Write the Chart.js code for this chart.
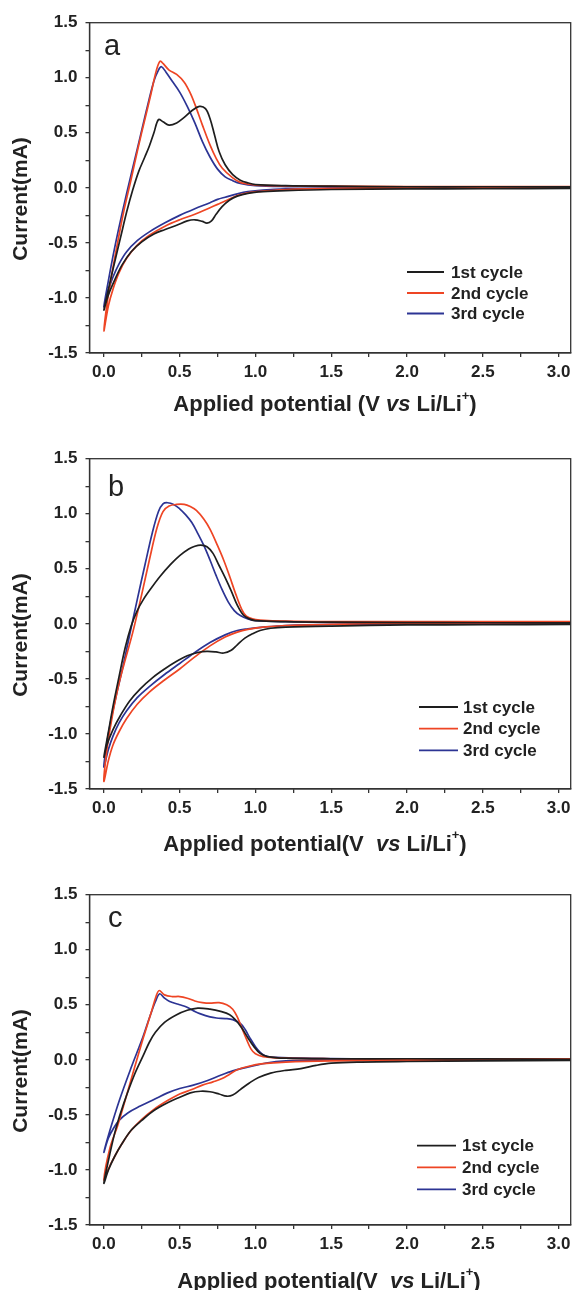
<!DOCTYPE html>
<html><head><meta charset="utf-8">
<script src="https://cdn.jsdelivr.net/npm/chart.js@4"></script>
<style>
html,body{margin:0;padding:0;background:#fff;overflow:hidden;width:576px;height:1290px}
.panel{position:absolute;left:0;width:576px;height:436px}
</style></head><body>
<div class="panel" style="top:0px"><canvas id="ca" width="576" height="436"></canvas></div>
<div class="panel" style="top:436px"><canvas id="cb" width="576" height="436"></canvas></div>
<div class="panel" style="top:872px"><canvas id="cc" width="576" height="436"></canvas></div>
<script>
// ---- data: [potential V, current mA], cathodic sweep then anodic sweep ----
const seriesLabels = ['1st cycle', '2nd cycle', '3rd cycle'];
const xTicks = [0.0, 0.5, 1.0, 1.5, 2.0, 2.5, 3.0];
const yTicks = [-1.5, -1.0, -0.5, 0.0, 0.5, 1.0, 1.5];

const A1 = [[3.08,-0.005],[2.5,-0.008],[2.0,-0.01],[1.5,-0.015],[1.2,-0.025],[1.05,-0.035],[0.95,-0.05],[0.88,-0.075],[0.83,-0.11],[0.78,-0.17],[0.74,-0.24],[0.71,-0.3],[0.68,-0.32],[0.65,-0.305],[0.6,-0.29],[0.55,-0.3],[0.48,-0.34],[0.4,-0.38],[0.33,-0.42],[0.25,-0.49],[0.18,-0.58],[0.12,-0.7],[0.07,-0.84],[0.03,-0.97],[0,-1.11],
 [0.03,-0.92],[0.07,-0.68],[0.11,-0.45],[0.15,-0.22],[0.19,-0.02],[0.23,0.15],[0.27,0.28],[0.3,0.38],[0.33,0.5],[0.36,0.62],[0.39,0.6],[0.43,0.57],[0.48,0.59],[0.53,0.64],[0.58,0.7],[0.63,0.74],[0.67,0.72],[0.7,0.63],[0.73,0.48],[0.76,0.33],[0.8,0.21],[0.85,0.12],[0.9,0.07],[0.95,0.045],[1.0,0.03],[1.2,0.02],[1.5,0.015],[2.0,0.01],[2.5,0.01],[3.08,0.01]];
const A2 = [[3.08,0.005],[2.5,0.003],[2.0,0.0],[1.5,-0.005],[1.2,-0.015],[1.05,-0.03],[0.95,-0.045],[0.88,-0.07],[0.8,-0.12],[0.75,-0.15],[0.7,-0.18],[0.6,-0.24],[0.5,-0.29],[0.4,-0.35],[0.3,-0.43],[0.22,-0.52],[0.15,-0.64],[0.1,-0.77],[0.06,-0.92],[0.03,-1.07],[0,-1.3],
 [0.02,-1.06],[0.05,-0.8],[0.09,-0.5],[0.13,-0.22],[0.18,0.08],[0.225,0.36],[0.27,0.62],[0.31,0.85],[0.345,1.06],[0.37,1.15],[0.39,1.13],[0.43,1.07],[0.48,1.03],[0.53,0.96],[0.57,0.86],[0.6,0.76],[0.65,0.57],[0.7,0.39],[0.74,0.27],[0.78,0.18],[0.85,0.09],[0.9,0.05],[0.95,0.035],[1.0,0.025],[1.2,0.018],[1.5,0.015],[2.0,0.012],[2.5,0.012],[3.08,0.012]];
const A3 = [[3.08,0.005],[2.5,0.003],[2.0,0.0],[1.5,-0.005],[1.2,-0.01],[1.05,-0.02],[0.95,-0.035],[0.88,-0.055],[0.8,-0.085],[0.75,-0.105],[0.7,-0.135],[0.6,-0.19],[0.5,-0.25],[0.4,-0.32],[0.3,-0.4],[0.22,-0.48],[0.15,-0.58],[0.1,-0.69],[0.06,-0.81],[0.03,-0.93],[0,-1.08],
 [0.03,-0.84],[0.06,-0.62],[0.093,-0.4],[0.15,-0.05],[0.225,0.38],[0.28,0.7],[0.33,0.97],[0.36,1.07],[0.38,1.1],[0.41,1.05],[0.45,0.97],[0.5,0.87],[0.55,0.74],[0.6,0.59],[0.65,0.42],[0.7,0.28],[0.75,0.17],[0.8,0.1],[0.85,0.065],[0.9,0.04],[1.0,0.02],[1.2,0.012],[1.5,0.01],[2.0,0.008],[2.5,0.007],[3.08,0.007]];

const B1 = [[3.08,-0.005],[2.5,-0.008],[2.0,-0.01],[1.5,-0.02],[1.2,-0.03],[1.1,-0.04],[1.03,-0.06],[0.98,-0.09],[0.93,-0.13],[0.88,-0.19],[0.84,-0.24],[0.79,-0.265],[0.74,-0.255],[0.68,-0.25],[0.62,-0.26],[0.55,-0.29],[0.48,-0.34],[0.4,-0.41],[0.32,-0.49],[0.24,-0.59],[0.17,-0.7],[0.11,-0.83],[0.06,-0.96],[0.02,-1.1],[0,-1.21],
 [0.03,-0.98],[0.06,-0.75],[0.1,-0.48],[0.14,-0.22],[0.18,-0.02],[0.22,0.12],[0.26,0.22],[0.31,0.32],[0.37,0.43],[0.44,0.54],[0.5,0.62],[0.56,0.68],[0.6,0.705],[0.64,0.715],[0.68,0.7],[0.72,0.64],[0.76,0.53],[0.8,0.42],[0.84,0.3],[0.88,0.17],[0.92,0.08],[0.96,0.045],[1.0,0.03],[1.2,0.02],[1.5,0.015],[2.0,0.012],[2.5,0.01],[3.08,0.01]];
const B2 = [[3.08,0.01],[2.5,0.008],[2.0,0.005],[1.5,-0.005],[1.2,-0.015],[1.05,-0.03],[0.95,-0.05],[0.88,-0.075],[0.8,-0.12],[0.7,-0.2],[0.6,-0.3],[0.5,-0.41],[0.4,-0.51],[0.3,-0.62],[0.22,-0.73],[0.15,-0.86],[0.1,-0.98],[0.06,-1.1],[0.03,-1.24],[0,-1.43],
 [0.02,-1.14],[0.05,-0.88],[0.09,-0.6],[0.13,-0.38],[0.19,-0.08],[0.25,0.27],[0.3,0.58],[0.35,0.87],[0.39,1.02],[0.43,1.07],[0.48,1.085],[0.53,1.085],[0.57,1.065],[0.61,1.03],[0.66,0.95],[0.7,0.86],[0.75,0.71],[0.79,0.58],[0.83,0.43],[0.87,0.27],[0.91,0.13],[0.94,0.07],[0.98,0.045],[1.03,0.035],[1.2,0.025],[1.5,0.02],[2.0,0.02],[2.5,0.02],[3.08,0.02]];
const B3 = [[3.08,0.005],[2.5,0.003],[2.0,0.0],[1.5,-0.005],[1.2,-0.015],[1.05,-0.03],[0.95,-0.045],[0.88,-0.06],[0.8,-0.1],[0.7,-0.17],[0.6,-0.26],[0.5,-0.36],[0.4,-0.46],[0.3,-0.57],[0.22,-0.67],[0.15,-0.79],[0.1,-0.9],[0.06,-1.02],[0.03,-1.14],[0,-1.3],
 [0.02,-1.08],[0.05,-0.85],[0.09,-0.6],[0.13,-0.36],[0.17,-0.1],[0.22,0.22],[0.27,0.53],[0.32,0.83],[0.36,1.02],[0.39,1.09],[0.42,1.1],[0.46,1.085],[0.5,1.045],[0.54,0.99],[0.58,0.92],[0.62,0.82],[0.66,0.71],[0.7,0.58],[0.74,0.44],[0.78,0.31],[0.82,0.2],[0.86,0.12],[0.9,0.075],[0.95,0.045],[1.0,0.03],[1.2,0.02],[1.5,0.015],[2.0,0.012],[2.5,0.01],[3.08,0.01]];

const C1 = [[3.08,-0.005],[2.5,-0.01],[2.0,-0.015],[1.7,-0.02],[1.5,-0.03],[1.4,-0.05],[1.3,-0.08],[1.2,-0.095],[1.1,-0.12],[1.02,-0.16],[0.96,-0.21],[0.9,-0.27],[0.85,-0.32],[0.81,-0.33],[0.76,-0.31],[0.7,-0.29],[0.64,-0.285],[0.57,-0.3],[0.5,-0.34],[0.42,-0.39],[0.33,-0.46],[0.25,-0.55],[0.18,-0.64],[0.12,-0.76],[0.07,-0.88],[0.03,-1.0],[0,-1.12],
 [0.04,-0.85],[0.08,-0.62],[0.13,-0.4],[0.2,-0.14],[0.26,0.04],[0.3,0.16],[0.34,0.25],[0.4,0.34],[0.48,0.41],[0.55,0.45],[0.62,0.47],[0.7,0.46],[0.77,0.44],[0.83,0.41],[0.87,0.36],[0.91,0.29],[0.95,0.2],[0.99,0.12],[1.03,0.06],[1.08,0.03],[1.2,0.015],[1.5,0.01],[2.0,0.01],[2.5,0.008],[3.08,0.005]];
const C2 = [[3.08,0.0],[2.5,-0.003],[2.0,-0.005],[1.5,-0.01],[1.2,-0.02],[1.05,-0.035],[0.95,-0.06],[0.88,-0.09],[0.83,-0.13],[0.78,-0.17],[0.72,-0.2],[0.65,-0.23],[0.58,-0.27],[0.5,-0.31],[0.42,-0.37],[0.33,-0.45],[0.25,-0.54],[0.18,-0.64],[0.12,-0.76],[0.07,-0.88],[0.03,-0.99],[0,-1.09],
 [0.04,-0.8],[0.09,-0.6],[0.148,-0.33],[0.2,-0.08],[0.26,0.2],[0.31,0.42],[0.345,0.58],[0.365,0.63],[0.4,0.59],[0.45,0.575],[0.5,0.575],[0.55,0.56],[0.6,0.535],[0.65,0.52],[0.7,0.515],[0.76,0.52],[0.81,0.5],[0.85,0.46],[0.88,0.39],[0.91,0.29],[0.94,0.19],[0.97,0.1],[1.0,0.055],[1.05,0.03],[1.2,0.015],[1.5,0.01],[2.0,0.01],[2.5,0.01],[3.08,0.01]];
const C3 = [[3.08,0.005],[2.5,0.003],[2.0,0.002],[1.5,0.0],[1.2,-0.01],[1.07,-0.03],[0.92,-0.075],[0.85,-0.1],[0.77,-0.14],[0.68,-0.19],[0.59,-0.23],[0.5,-0.26],[0.42,-0.3],[0.33,-0.36],[0.24,-0.42],[0.16,-0.48],[0.1,-0.55],[0.06,-0.63],[0.03,-0.71],[0,-0.84],
 [0.04,-0.64],[0.104,-0.36],[0.18,-0.07],[0.258,0.21],[0.3,0.38],[0.34,0.53],[0.368,0.6],[0.4,0.56],[0.434,0.53],[0.5,0.5],[0.545,0.48],[0.6,0.44],[0.633,0.42],[0.7,0.39],[0.743,0.38],[0.8,0.375],[0.85,0.365],[0.9,0.33],[0.93,0.28],[0.963,0.2],[1.0,0.12],[1.03,0.07],[1.06,0.04],[1.1,0.025],[1.5,0.012],[2.0,0.01],[2.5,0.01],[3.08,0.01]];

const colors = ['#1e1e1e', '#ee4524', '#2c3494'];
const FONT = '"Liberation Sans", Arial, Helvetica, sans-serif';
Chart.defaults.font.family = FONT;

function isHalf(v){ return Math.abs(v*2 - Math.round(v*2)) < 1e-6; }
function fmt(v){ const r = Math.round(v*10)/10; return (r === 0 ? 0 : r).toFixed(1); }

const decor = {
  id: 'decor',
  afterDraw(chart, args, o) {
    const ctx = chart.ctx, ca = chart.chartArea;
    ctx.save();
    ctx.strokeStyle = '#333'; ctx.lineWidth = 1.3;
    ctx.strokeRect(ca.left, ca.top, ca.right - ca.left, ca.bottom - ca.top);
    ctx.fillStyle = '#222';
    // panel letter
    ctx.font = '29px ' + FONT; ctx.textAlign = 'left'; ctx.textBaseline = 'alphabetic';
    ctx.fillText(o.letter, o.letterX, o.letterY);
    // legend
    ctx.font = 'bold 17px ' + FONT; ctx.textBaseline = 'middle';
    chart.data.datasets.forEach((ds, i) => {
      const y = o.legY[i];
      ctx.strokeStyle = ds.borderColor; ctx.lineWidth = 1.8;
      ctx.beginPath(); ctx.moveTo(o.legX1, y); ctx.lineTo(o.legX2, y); ctx.stroke();
      ctx.fillStyle = '#222'; ctx.fillText(ds.label, o.legTX, y + 1);
    });
    // y title
    ctx.save();
    ctx.translate(21, 199); ctx.rotate(-Math.PI / 2);
    ctx.font = 'bold 21px ' + FONT; ctx.textAlign = 'center'; ctx.textBaseline = 'middle';
    ctx.fillText('Current(mA)', 0, 0);
    ctx.restore();
    // x title (rich text)
    const b = 'bold 22px ' + FONT, bi = 'italic bold 22px ' + FONT, sup = 'bold 13px ' + FONT;
    const segs = [
      {t: o.xPre, f: b}, {t: 'vs', f: bi}, {t: ' Li/Li', f: b}, {t: '+', f: sup, dy: -9}, {t: ')', f: b}
    ];
    let total = 0;
    segs.forEach(s => { ctx.font = s.f; s.w = ctx.measureText(s.t).width; total += s.w; });
    let x = o.xTitleX - total / 2;
    ctx.textAlign = 'left'; ctx.textBaseline = 'middle';
    segs.forEach(s => { ctx.font = s.f; ctx.fillText(s.t, x, o.xTitleY + (s.dy || 0)); x += s.w; });
    ctx.restore();
  }
};

function makeChart(id, loops, deco) {
  const tickFont = {family: FONT, size: 17, weight: 'bold'};
  return new Chart(document.getElementById(id), {
    type: 'line',
    data: {
      datasets: loops.map((arr, i) => ({
        label: seriesLabels[i],
        data: arr.map(p => ({x: p[0], y: p[1]})),
        borderColor: colors[i],
        borderWidth: 1.7,
        pointRadius: 0,
        tension: 0.35,
        fill: false
      }))
    },
    options: {
      responsive: false,
      animation: false,
      layout: {padding: {top: 22.7, right: 5.3, left: 0, bottom: 0}},
      plugins: {legend: {display: false}, tooltip: {enabled: false}, decor: deco},
      scales: {
        x: {
          type: 'linear', min: -0.095, max: 3.08,
          afterFit(s) { s.height = 83; },
          border: {display: true, color: '#333', width: 1.3},
          grid: {drawOnChartArea: false, drawTicks: true, tickLength: 4, tickColor: '#333', lineWidth: 1.3},
          ticks: {stepSize: 0.25, includeBounds: false, autoSkip: false, maxRotation: 0, padding: 5,
                  color: '#222', font: tickFont,
                  callback: v => (isHalf(v) && xTicks.some(t => Math.abs(t - v) < 1e-6)) ? fmt(v) : ''}
        },
        y: {
          min: -1.5, max: 1.5,
          afterFit(s) { s.width = 89.5; },
          border: {display: true, color: '#333', width: 1.3},
          grid: {drawOnChartArea: false, drawTicks: true, tickLength: 4, tickColor: '#333', lineWidth: 1.3},
          ticks: {stepSize: 0.25, autoSkip: false, padding: 8, color: '#222', font: tickFont,
                  callback: v => (isHalf(v) && yTicks.some(t => Math.abs(t - v) < 1e-6)) ? fmt(v) : ''}
        }
      }
    },
    plugins: [decor]
  });
}

makeChart('ca', [A1, A2, A3], {letter: 'a', letterX: 104, letterY: 55,
  legX1: 407, legX2: 444, legTX: 451, legY: [272, 293, 313.5],
  xPre: 'Applied potential (V ', xTitleX: 325, xTitleY: 405});
makeChart('cb', [B1, B2, B3], {letter: 'b', letterX: 108, letterY: 60,
  legX1: 419, legX2: 458, legTX: 463, legY: [271, 292.7, 314.4],
  xPre: 'Applied potential(V  ', xTitleX: 315, xTitleY: 408.5});
makeChart('cc', [C1, C2, C3], {letter: 'c', letterX: 108, letterY: 55,
  legX1: 417, legX2: 456, legTX: 462, legY: [273.7, 295.3, 317.3],
  xPre: 'Applied potential(V  ', xTitleX: 329, xTitleY: 409.5});
</script>
</body></html>
